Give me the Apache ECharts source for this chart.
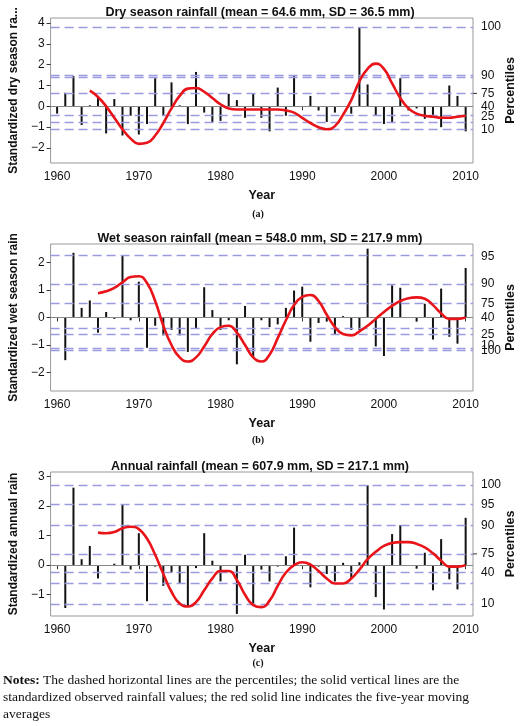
<!DOCTYPE html>
<html>
<head>
<meta charset="utf-8">
<script src="https://cdn.jsdelivr.net/npm/echarts@6/dist/echarts.min.js"></script>
<style>html,body{margin:0;padding:0;background:#fff}#c{width:520px;height:726px}</style>
</head>
<body>
<div id="c"></div>
<script>
// dry season, 1960-2010
const dryYears = [];
for (let y = 1960; y <= 2010; y++) dryYears.push(y);
const dryBars = [-0.35,0.65,1.45,-0.9,0.05,0.45,-1.3,0.35,-1.4,-0.45,-1.35,-0.85,1.35,-0.45,1.15,0.05,-0.85,1.65,-0.3,-0.75,-0.7,0.6,0.3,-0.55,0.6,-0.55,-1.2,0.9,-0.45,1.5,0,0.5,-0.2,-0.75,-0.3,0,-0.35,3.8,1.05,-0.45,-0.85,-0.8,1.35,-0.2,-0.1,-0.6,-0.45,-1.0,1.0,0.5,-1.2];
const dryAvgYears = dryYears.slice(4);
const dryAvg = [0.75,0.45,0.0,-0.55,-1.1,-1.55,-1.8,-1.75,-1.4,-0.8,-0.1,0.5,0.85,0.88,0.7,0.4,0.1,-0.1,-0.15,-0.15,-0.15,-0.15,-0.15,-0.15,-0.2,-0.3,-0.55,-0.8,-1.0,-1.1,-0.95,-0.4,0.3,1.2,1.8,2.05,1.8,1.1,0.4,-0.1,-0.35,-0.45,-0.5,-0.55,-0.55,-0.5,-0.45];
const dryPctLines = [3.8,1.5,1.38,0.62,-0.45,-0.75,-1.1];
const dryPctLabels = ['100','90','75','40','25','10'];
const dryPctLabelAt = [3.8,1.45,0.62,-0.02,-0.5,-1.1];

// wet season, 1961-2010
const wetYears = [];
for (let y = 1961; y <= 2010; y++) wetYears.push(y);
const wetBars = [-1.55,2.35,0.35,0.62,-0.55,0.2,-0.05,2.25,-0.1,1.3,-1.1,-0.3,-0.65,-0.45,-0.65,-1.25,-0.4,1.1,0.27,-0.45,-0.1,-1.7,0.42,-1.45,-0.1,-0.35,-0.25,0.35,0.98,1.12,-0.88,-0.2,-0.15,-0.6,0.05,-0.45,-0.45,2.5,-1.05,-1.4,1.17,1.08,0,-0.15,0.5,-0.8,1.05,-0.7,-0.95,1.8];
const wetAvgYears = wetYears.slice(4);
const wetAvg = [0.88,0.95,1.08,1.28,1.47,1.5,1.25,0.6,-0.3,-1.0,-1.45,-1.6,-1.45,-1.05,-0.6,-0.35,-0.3,-0.55,-1.0,-1.45,-1.6,-1.35,-0.75,-0.1,0.45,0.75,0.82,0.6,0.1,-0.35,-0.6,-0.65,-0.5,-0.3,-0.05,0.2,0.42,0.6,0.7,0.73,0.68,0.45,0.15,-0.05,-0.05,0.0];
const wetPctLines = [2.25,1.22,0.5,-0.4,-0.62,-1.1,-1.2];
const wetPctLabels = ['95','90','75','40','25','10','100'];
const wetPctLabelAt = [2.2,1.22,0.5,0,-0.62,-1.02,-1.22];

// annual, 1961-2010
const annBars = [-1.45,2.62,0.2,0.65,-0.45,0,0.05,2.05,-0.15,1.08,-1.22,-0.05,-0.7,-0.25,-0.6,-1.4,-0.1,1.08,0.15,-0.55,0,-1.65,0.35,-1.3,-0.15,-0.55,-0.05,0.3,1.27,0,-0.75,-0.05,-0.3,-0.55,0.08,-0.45,0.1,2.7,-1.08,-1.5,1.05,1.35,0,-0.12,0.42,-0.85,0.88,-0.48,-0.82,1.6];
const annAvg = [1.1,1.08,1.12,1.25,1.3,1.22,0.9,0.35,-0.3,-0.9,-1.3,-1.4,-1.25,-0.85,-0.45,-0.2,-0.2,-0.5,-1.0,-1.35,-1.42,-1.2,-0.7,-0.25,0.0,0.1,0.02,-0.2,-0.45,-0.62,-0.62,-0.45,-0.15,0.2,0.45,0.65,0.75,0.78,0.78,0.72,0.6,0.4,0.15,-0.05,-0.05,0.0];
const annPctLines = [2.7,2.05,1.35,0.38,-0.25,-0.62,-1.32];
const annPctLabels = ['100','95','90','75','40','10'];
const annPctLabelAt = [2.72,2.03,1.35,0.38,-0.25,-1.32];

const xTicks = [1960,1970,1980,1990,2000,2010];

const panels = [
  {title:'Dry season rainfall (mean = 64.6 mm, SD = 36.5 mm)', yName:'Standardized dry season ra...', top:18, height:145, ymin:-2.72, ymax:4.24, yTicks:[-2,-1,0,1,2,3,4],
   years:dryYears, bars:dryBars, avgYears:dryAvgYears, avg:dryAvg, lines:dryPctLines, labels:dryPctLabels, labelAt:dryPctLabelAt, tickAt:0.62, cap:'(a)', capY:209},
  {title:'Wet season rainfall (mean = 548.0 mm, SD = 217.9 mm)', yName:'Standardized wet season rain', top:244, height:147, ymin:-2.67, ymax:2.67, yTicks:[-2,-1,0,1,2],
   years:wetYears, bars:wetBars, avgYears:wetAvgYears, avg:wetAvg, lines:wetPctLines, labels:wetPctLabels, labelAt:wetPctLabelAt, tickAt:null, cap:'(b)', capY:435},
  {title:'Annual rainfall (mean = 607.9 mm, SD = 217.1 mm)', yName:'Standardized annual rain', top:472, height:144, ymin:-1.72, ymax:3.15, yTicks:[-1,0,1,2,3],
   years:wetYears, bars:annBars, avgYears:wetAvgYears, avg:annAvg, lines:annPctLines, labels:annPctLabels, labelAt:annPctLabelAt, tickAt:0.38, cap:'(c)', capY:658}
];

const font = 'Liberation Sans';
const option = {backgroundColor:'#fff', animation:false, grid:[], xAxis:[], yAxis:[], series:[], title:[], graphic:[]};

panels.forEach((p, i) => {
  option.grid.push({left:43, width:430, top:p.top, height:p.height, show:true, borderColor:'#999', borderWidth:1});
  option.title.push({text:p.title, left:'center', top:p.top - 17, textStyle:{fontFamily:font, fontSize:12.5, fontWeight:'bold', color:'#111'}});
  option.xAxis.push({type:'value', gridIndex:i, min:1959.2, max:2010.9, name:'Year', nameLocation:'middle', nameGap:26,
    nameTextStyle:{fontFamily:font, fontSize:12.5, fontWeight:'bold', color:'#111'},
    axisLine:{show:false}, splitLine:{show:false},
    axisTick:{customValues:xTicks, length:4, lineStyle:{color:'#333'}},
    axisLabel:{customValues:xTicks, fontFamily:font, fontSize:12, color:'#111', margin:8, formatter:v => String(v)}});
  option.yAxis.push({type:'value', gridIndex:i, min:p.ymin, max:p.ymax, name:p.yName, nameLocation:'middle', nameGap:26,
    nameTextStyle:{fontFamily:font, fontSize:12, fontWeight:'bold', color:'#111'},
    axisLine:{show:false}, splitLine:{show:false},
    axisTick:{customValues:p.yTicks, length:4, lineStyle:{color:'#333'}},
    axisLabel:{customValues:p.yTicks, fontFamily:font, fontSize:12, color:'#111', margin:6,
      formatter:v => (v < 0 ? '\u2212' + (-v) : String(v))}});
  const pctLines = p.lines.map(v => ({yAxis:v, lineStyle:{color:'#9a9ae0', width:1.3, type:[9,5]}, label:{show:false}}));
  const pctLabels = p.labels.map((t, k) => ({yAxis:p.labelAt[k], lineStyle:{color:'rgba(0,0,0,0)', width:0.1},
    label:{show:true, position:'end', distance:8, formatter:t, fontFamily:font, fontSize:12, color:'#111'}}));
  option.series.push({type:'bar', xAxisIndex:i, yAxisIndex:i, barWidth:2, itemStyle:{color:'#111'},
    data:p.years.map((y, k) => [y, p.bars[k]]),
    markLine:{silent:true, symbol:'none', animation:false,
      data:[{yAxis:0, lineStyle:{color:'#888', width:1.2, type:'solid'}, label:{show:false}}].concat(pctLines, pctLabels)}});
  option.series.push({type:'line', xAxisIndex:i, yAxisIndex:i, smooth:0.5, symbol:'none', z:5,
    lineStyle:{color:'#e8141a', width:2.6}, data:p.avgYears.map((y, k) => [y, p.avg[k]])});
  option.graphic.push({type:'text', rotation:Math.PI/2, x:517, y:p.top + p.height/2,
    style:{text:'Percentiles', font:'bold 12.5px ' + font, fill:'#111', textAlign:'center', textVerticalAlign:'bottom'}});
  if (p.tickAt !== null) {
    option.graphic.push({type:'line', shape:{x1:473, y1:0, x2:477, y2:0},
      y:p.top + p.height * (p.ymax - p.tickAt) / (p.ymax - p.ymin), style:{stroke:'#333', lineWidth:1}});
  }
  option.graphic.push({type:'text', x:258, y:p.capY, style:{text:p.cap, font:'bold 10px Liberation Serif', fill:'#111', textAlign:'center'}});
});

option.graphic.push({type:'text', x:3, y:672, style:{
  text:'{b|Notes:} The dashed horizontal lines are the percentiles; the solid vertical lines are the\nstandardized observed rainfall values; the red solid line indicates the five-year moving\naverages',
  font:'13.5px Liberation Serif', fill:'#111', lineHeight:17,
  rich:{b:{fontWeight:'bold', fontFamily:'Liberation Serif', fontSize:13.5}}}});

const chart = echarts.init(document.getElementById('c'));
chart.setOption(option);
</script>
</body>
</html>
